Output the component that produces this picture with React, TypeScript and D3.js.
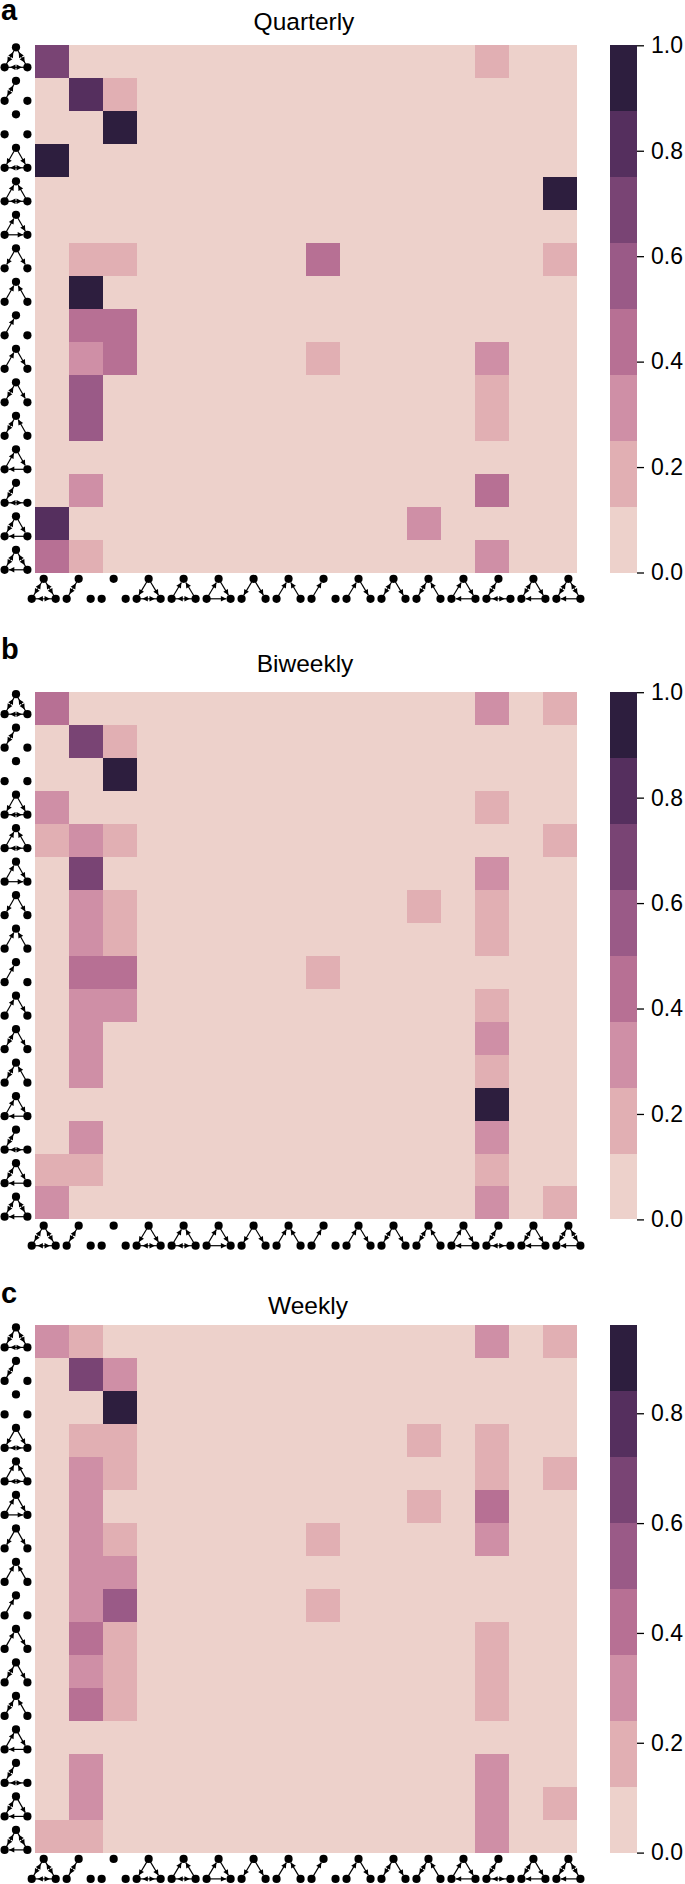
import React, { useEffect, useRef } from "react";
import * as d3 from "d3";

// heatmap values (row = motif on y, column = motif on x)
const quarterly = [
  [0.7, 0, 0, 0, 0, 0, 0, 0, 0, 0, 0, 0, 0, 0.2, 0, 0],
  [0, 0.8, 0.2, 0, 0, 0, 0, 0, 0, 0, 0, 0, 0, 0, 0, 0],
  [0, 0, 1, 0, 0, 0, 0, 0, 0, 0, 0, 0, 0, 0, 0, 0],
  [1, 0, 0, 0, 0, 0, 0, 0, 0, 0, 0, 0, 0, 0, 0, 0],
  [0, 0, 0, 0, 0, 0, 0, 0, 0, 0, 0, 0, 0, 0, 0, 1],
  [0, 0, 0, 0, 0, 0, 0, 0, 0, 0, 0, 0, 0, 0, 0, 0],
  [0, 0.2, 0.2, 0, 0, 0, 0, 0, 0.4, 0, 0, 0, 0, 0, 0, 0.2],
  [0, 1, 0, 0, 0, 0, 0, 0, 0, 0, 0, 0, 0, 0, 0, 0],
  [0, 0.4, 0.4, 0, 0, 0, 0, 0, 0, 0, 0, 0, 0, 0, 0, 0],
  [0, 0.3, 0.4, 0, 0, 0, 0, 0, 0.2, 0, 0, 0, 0, 0.3, 0, 0],
  [0, 0.55, 0, 0, 0, 0, 0, 0, 0, 0, 0, 0, 0, 0.2, 0, 0],
  [0, 0.55, 0, 0, 0, 0, 0, 0, 0, 0, 0, 0, 0, 0.2, 0, 0],
  [0, 0, 0, 0, 0, 0, 0, 0, 0, 0, 0, 0, 0, 0, 0, 0],
  [0, 0.3, 0, 0, 0, 0, 0, 0, 0, 0, 0, 0, 0, 0.4, 0, 0],
  [0.8, 0, 0, 0, 0, 0, 0, 0, 0, 0, 0, 0.3, 0, 0, 0, 0],
  [0.4, 0.2, 0, 0, 0, 0, 0, 0, 0, 0, 0, 0, 0, 0.3, 0, 0],
];

const biweekly = [
  [0.4, 0, 0, 0, 0, 0, 0, 0, 0, 0, 0, 0, 0, 0.3, 0, 0.2],
  [0, 0.7, 0.2, 0, 0, 0, 0, 0, 0, 0, 0, 0, 0, 0, 0, 0],
  [0, 0, 1, 0, 0, 0, 0, 0, 0, 0, 0, 0, 0, 0, 0, 0],
  [0.3, 0, 0, 0, 0, 0, 0, 0, 0, 0, 0, 0, 0, 0.2, 0, 0],
  [0.2, 0.3, 0.2, 0, 0, 0, 0, 0, 0, 0, 0, 0, 0, 0, 0, 0.2],
  [0, 0.7, 0, 0, 0, 0, 0, 0, 0, 0, 0, 0, 0, 0.3, 0, 0],
  [0, 0.3, 0.2, 0, 0, 0, 0, 0, 0, 0, 0, 0.2, 0, 0.2, 0, 0],
  [0, 0.3, 0.2, 0, 0, 0, 0, 0, 0, 0, 0, 0, 0, 0.2, 0, 0],
  [0, 0.4, 0.4, 0, 0, 0, 0, 0, 0.2, 0, 0, 0, 0, 0, 0, 0],
  [0, 0.3, 0.3, 0, 0, 0, 0, 0, 0, 0, 0, 0, 0, 0.2, 0, 0],
  [0, 0.3, 0, 0, 0, 0, 0, 0, 0, 0, 0, 0, 0, 0.3, 0, 0],
  [0, 0.3, 0, 0, 0, 0, 0, 0, 0, 0, 0, 0, 0, 0.2, 0, 0],
  [0, 0, 0, 0, 0, 0, 0, 0, 0, 0, 0, 0, 0, 1, 0, 0],
  [0, 0.3, 0, 0, 0, 0, 0, 0, 0, 0, 0, 0, 0, 0.3, 0, 0],
  [0.2, 0.2, 0, 0, 0, 0, 0, 0, 0, 0, 0, 0, 0, 0.2, 0, 0],
  [0.3, 0, 0, 0, 0, 0, 0, 0, 0, 0, 0, 0, 0, 0.3, 0, 0.2],
];

const weekly = [
  [0.3, 0.2, 0, 0, 0, 0, 0, 0, 0, 0, 0, 0, 0, 0.3, 0, 0.2],
  [0, 0.65, 0.3, 0, 0, 0, 0, 0, 0, 0, 0, 0, 0, 0, 0, 0],
  [0, 0, 0.95, 0, 0, 0, 0, 0, 0, 0, 0, 0, 0, 0, 0, 0],
  [0, 0.2, 0.2, 0, 0, 0, 0, 0, 0, 0, 0, 0.2, 0, 0.2, 0, 0],
  [0, 0.3, 0.2, 0, 0, 0, 0, 0, 0, 0, 0, 0, 0, 0.2, 0, 0.2],
  [0, 0.3, 0, 0, 0, 0, 0, 0, 0, 0, 0, 0.2, 0, 0.4, 0, 0],
  [0, 0.3, 0.2, 0, 0, 0, 0, 0, 0.2, 0, 0, 0, 0, 0.3, 0, 0],
  [0, 0.3, 0.3, 0, 0, 0, 0, 0, 0, 0, 0, 0, 0, 0, 0, 0],
  [0, 0.3, 0.55, 0, 0, 0, 0, 0, 0.2, 0, 0, 0, 0, 0, 0, 0],
  [0, 0.4, 0.2, 0, 0, 0, 0, 0, 0, 0, 0, 0, 0, 0.2, 0, 0],
  [0, 0.3, 0.2, 0, 0, 0, 0, 0, 0, 0, 0, 0, 0, 0.2, 0, 0],
  [0, 0.4, 0.2, 0, 0, 0, 0, 0, 0, 0, 0, 0, 0, 0.2, 0, 0],
  [0, 0, 0, 0, 0, 0, 0, 0, 0, 0, 0, 0, 0, 0, 0, 0],
  [0, 0.3, 0, 0, 0, 0, 0, 0, 0, 0, 0, 0, 0, 0.3, 0, 0],
  [0, 0.3, 0, 0, 0, 0, 0, 0, 0, 0, 0, 0, 0, 0.3, 0, 0.2],
  [0.2, 0.2, 0, 0, 0, 0, 0, 0, 0, 0, 0, 0, 0, 0.3, 0, 0],
];

const palette = ["#edd1cb", "#e1afb3", "#cf8fa6", "#b77094", "#9a5a87", "#794474", "#552f5e", "#2d1e3e"];

// T = top node, L = bottom left, R = bottom right; "AB" is an arrow from A to B
const motifs = [
  ["TL", "LT", "TR", "RT", "LR", "RL"],
  ["TL", "LT"],
  [],
  ["TL", "TR", "LR", "RL"],
  ["LT", "RT", "LR", "RL"],
  ["LT", "TR", "LR"],
  ["TL", "TR"],
  ["LT", "RT"],
  ["LT"],
  ["LT", "TR"],
  ["TL", "LT", "TR"],
  ["TL", "LT", "RT"],
  ["LT", "TR", "RL"],
  ["TL", "LT", "LR", "RL"],
  ["TL", "LT", "TR", "RL"],
  ["TL", "LT", "TR", "RT", "RL"],
];

const panels = [
  { letter: "a", letterY: 20, title: "Quarterly", titleX: 304, titleY: 30, top: 45.3, values: quarterly, max: 1, ticks: [0, 0.2, 0.4, 0.6, 0.8, 1] },
  { letter: "b", letterY: 659, title: "Biweekly", titleX: 305, titleY: 672, top: 692.2, values: biweekly, max: 1, ticks: [0, 0.2, 0.4, 0.6, 0.8, 1] },
  { letter: "c", letterY: 1303, title: "Weekly", titleX: 308, titleY: 1314, top: 1325.4, values: weekly, max: 0.96, ticks: [0, 0.2, 0.4, 0.6, 0.8] },
];

const FONT = "'Liberation Sans', Arial, sans-serif";

function drawMotif(g: any, edges: string[], spreadX: number) {
  const nodes: Record<string, [number, number]> = {
    T: [0, 0],
    L: [-spreadX, 20],
    R: [spreadX, 20],
  };
  const r = 4.1;

  edges.forEach((e) => {
    const [ax, ay] = nodes[e[0]];
    const [bx, by] = nodes[e[1]];
    const len = Math.hypot(bx - ax, by - ay);
    const ux = (bx - ax) / len;
    const uy = (by - ay) / len;
    // two-way edges have their heads pulled in towards the middle
    const both = edges.includes(e[1] + e[0]);
    const gap = both ? len * 0.24 : r + 0.2;
    const tipX = bx - ux * gap;
    const tipY = by - uy * gap;

    g.append("line")
      .attr("x1", ax)
      .attr("y1", ay)
      .attr("x2", both ? (ax + bx) / 2 : tipX)
      .attr("y2", both ? (ay + by) / 2 : tipY)
      .attr("stroke", "#000")
      .attr("stroke-width", 1.2);

    const size = 5.4;
    const half = 2.7;
    g.append("path")
      .attr(
        "d",
        d3.line()([
          [tipX, tipY],
          [tipX - ux * size - uy * half, tipY - uy * size + ux * half],
          [tipX - ux * size + uy * half, tipY - uy * size - ux * half],
        ]) + "Z"
      )
      .attr("fill", "#000");
  });

  g.selectAll("circle")
    .data(Object.values(nodes))
    .join("circle")
    .attr("cx", (d: [number, number]) => d[0])
    .attr("cy", (d: [number, number]) => d[1])
    .attr("r", r)
    .attr("fill", "#000");
}

export default function App() {
  const svgRef = useRef<SVGSVGElement>(null);

  useEffect(() => {
    if (!svgRef.current) return;

    const width = 685;
    const height = 1884;
    const left = 35;
    const right = 576.7;
    const mapHeight = 527.2;
    const barLeft = 610;
    const barRight = 637;

    const svg = d3.select(svgRef.current);
    svg.selectAll("*").remove();
    svg.attr("viewBox", `0 0 ${width} ${height}`).attr("width", width).attr("height", height);

    const idx = d3.range(16);
    const x = d3.scaleBand<number>().domain(idx).range([left, right]);
    // the motif images are slightly more spread out than the cells
    const iconX = d3.scalePoint<number>().domain(idx).range([43.7, 568.4]);

    panels.forEach((p) => {
      const y = d3.scaleBand<number>().domain(idx).range([p.top, p.top + mapHeight]);
      const iconY = d3.scalePoint<number>().domain(idx).range([p.top + 2, p.top + 504.5]);
      const color = d3.scaleQuantize<string>().domain([0, p.max]).range(palette);
      const g = svg.append("g");

      g.append("text")
        .attr("x", 1)
        .attr("y", p.letterY)
        .attr("font-family", FONT)
        .attr("font-weight", "bold")
        .attr("font-size", 29)
        .text(p.letter);

      g.append("text")
        .attr("x", p.titleX)
        .attr("y", p.titleY)
        .attr("text-anchor", "middle")
        .attr("font-family", FONT)
        .attr("font-size", 24.5)
        .text(p.title);

      p.values.forEach((row, i) => {
        g.append("g")
          .attr("shape-rendering", "crispEdges")
          .selectAll("rect")
          .data(row)
          .join("rect")
          .attr("x", (_, j) => x(j)!)
          .attr("y", y(i)!)
          .attr("width", x.bandwidth())
          .attr("height", y.bandwidth())
          .attr("fill", (d) => color(Math.min(d, p.max)));
      });

      motifs.forEach((edges, i) => {
        drawMotif(g.append("g").attr("transform", `translate(16,${iconY(i)})`), edges, 11.4);
        drawMotif(g.append("g").attr("transform", `translate(${iconX(i)},${p.top + mapHeight + 6.3})`), edges, 12);
      });

      // colorbar
      const barY = d3.scaleLinear().domain([0, p.max]).range([p.top + mapHeight, p.top]);
      g.append("g")
        .attr("shape-rendering", "crispEdges")
        .selectAll("rect")
        .data(palette)
        .join("rect")
        .attr("x", barLeft)
        .attr("width", barRight - barLeft)
        .attr("y", (d) => barY(color.invertExtent(d)[1]))
        .attr("height", (d) => barY(color.invertExtent(d)[0]) - barY(color.invertExtent(d)[1]))
        .attr("fill", (d) => d);

      const axis = g
        .append("g")
        .attr("transform", `translate(${barRight},0)`)
        .call(
          d3
            .axisRight(barY)
            .tickValues(p.ticks)
            .tickSize(7)
            .tickPadding(7)
            .tickFormat(d3.format(".1f") as any)
        );
      axis.select(".domain").remove();
      axis.selectAll("line").attr("stroke", "#000").attr("stroke-width", 1.3);
      axis.selectAll("text").attr("font-family", FONT).attr("font-size", 23).attr("fill", "#000");
    });
  }, []);

  return <svg ref={svgRef} style={{ position: "absolute", left: 0, top: 0, display: "block" }} />;
}
